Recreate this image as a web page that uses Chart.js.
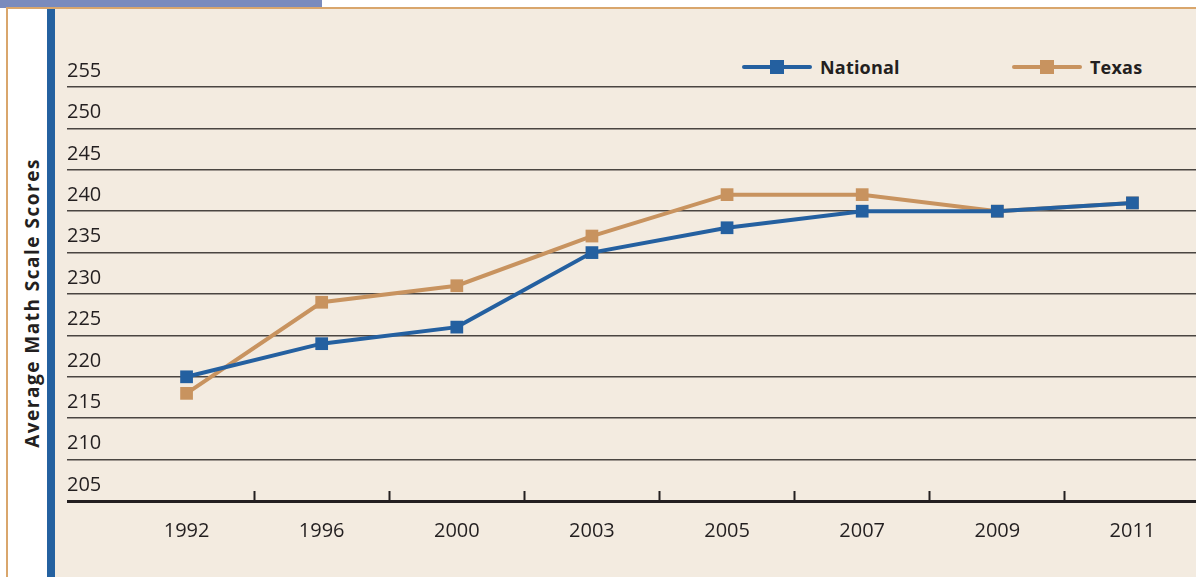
<!DOCTYPE html>
<html>
<head>
<meta charset="utf-8">
<script src="https://cdn.jsdelivr.net/npm/chart.js@4.4.1/dist/chart.umd.min.js"></script>
<style>
  html, body { margin: 0; padding: 0; background: #ffffff; overflow: hidden; }
  body { width: 1196px; height: 577px; position: relative; font-family: 'Open Sans', sans-serif; color: #231f20; }
  #topBar { position: absolute; left: 0; top: 0; width: 322px; height: 8px; background: #7a8bbd; }
  #frameTop { position: absolute; left: 6px; top: 7px; right: 0; height: 1.5px; background: #d9a66c; }
  #frameLeft { position: absolute; left: 6px; top: 7px; width: 1.5px; bottom: 0; background: #d9a66c; }
  #panel { position: absolute; left: 55px; top: 9px; right: 0; bottom: 0; background: #f3ebe0; }
  #blueBar { position: absolute; left: 47px; top: 9px; width: 8px; bottom: 0; background: #2461a0; }
  #yTitle { position: absolute; left: 32px; top: 303px; transform: translate(-50%, -50%) rotate(-90deg);
            white-space: nowrap; font-weight: 700; font-size: 19px; letter-spacing: 1.5px; }
  #legend { position: absolute; left: 742px; top: 54px; display: flex; }
  .item { width: 270px; height: 26px; display: flex; align-items: center; }
  .mark { position: relative; width: 70px; height: 4px; border-radius: 2px; margin-right: 8px; }
  .mark span { position: absolute; left: 28px; top: -5px; width: 14px; height: 14px; }
  .item b { font-size: 18px; letter-spacing: 0.2px; }
  canvas { position: absolute; left: 0; top: 0; }
</style>
</head>
<body>
<div id="topBar"></div>
<div id="frameTop"></div>
<div id="frameLeft"></div>
<div id="panel"></div>
<div id="blueBar"></div>
<div id="yTitle">Average Math Scale Scores</div>
<div id="legend"></div>
<canvas id="scoreChart" width="1209" height="577"></canvas>
<script>
const years = ['1992', '1996', '2000', '2003', '2005', '2007', '2009', '2011'];
const nationalScores = [220, 224, 226, 235, 238, 240, 240, 241];
const texasScores = [218, 229, 231, 237, 242, 242, 240, 241];
const seriesNames = ['National', 'Texas'];
const seriesColors = ['#2460a0', '#c8935f'];
const yMin = 205, yMax = 255, yStep = 5;

// legend built from the series names / colors
const legendEl = document.getElementById('legend');
seriesNames.forEach((name, i) => {
    const item = document.createElement('div');
    item.className = 'item';
    item.innerHTML = `<div class="mark" style="background:${seriesColors[i]}"><span style="background:${seriesColors[i]}"></span></div><b>${name}</b>`;
    legendEl.appendChild(item);
});

const gridColor = '#4a4541';
const axisColor = '#231f20';

const ctx = document.getElementById('scoreChart').getContext('2d');
const chart = new Chart(ctx, {
    type: 'line',
    data: {
        labels: years,
        datasets: [nationalScores, texasScores].map((values, i) => ({
            label: seriesNames[i],
            data: values,
            borderColor: seriesColors[i],
            backgroundColor: seriesColors[i],
            borderWidth: 4,
            tension: 0,
            pointStyle: 'rect',
            pointRadius: 9,
            pointBorderWidth: 0,
            pointHoverRadius: 9
        }))
    },
    options: {
        responsive: false,
        animation: false,
        events: [],
        layout: { padding: { left: 67, top: 87, right: 0, bottom: 0 } },
        plugins: { legend: { display: false }, tooltip: { enabled: false } },
        scales: {
            x: {
                offset: true,
                afterFit: (scale) => { scale.height = 76; },
                border: { display: false },
                grid: {
                    offset: true,
                    drawOnChartArea: false,
                    tickLength: -10,
                    tickWidth: 2,
                    // only the inner boundaries get a tick mark
                    tickColor: (c) => (c.index === 0 || c.index >= years.length ? 'rgba(0,0,0,0)' : axisColor)
                },
                ticks: {
                    padding: 28,
                    color: axisColor,
                    font: { family: "'Open Sans', sans-serif", size: 20 }
                }
            },
            y: {
                min: yMin,
                max: yMax,
                afterFit: (scale) => { scale.width = 52; },
                border: { display: false },
                grid: {
                    tickLength: 52,
                    color: (c) => (c.tick && c.tick.value === yMin ? axisColor : gridColor),
                    lineWidth: (c) => (c.tick && c.tick.value === yMin ? 3 : 1.5)
                },
                ticks: {
                    stepSize: yStep,
                    crossAlign: 'far',
                    labelOffset: -16,
                    color: axisColor,
                    font: { family: "'Open Sans', sans-serif", size: 20 }
                }
            }
        }
    }
});
</script>
</body>
</html>
